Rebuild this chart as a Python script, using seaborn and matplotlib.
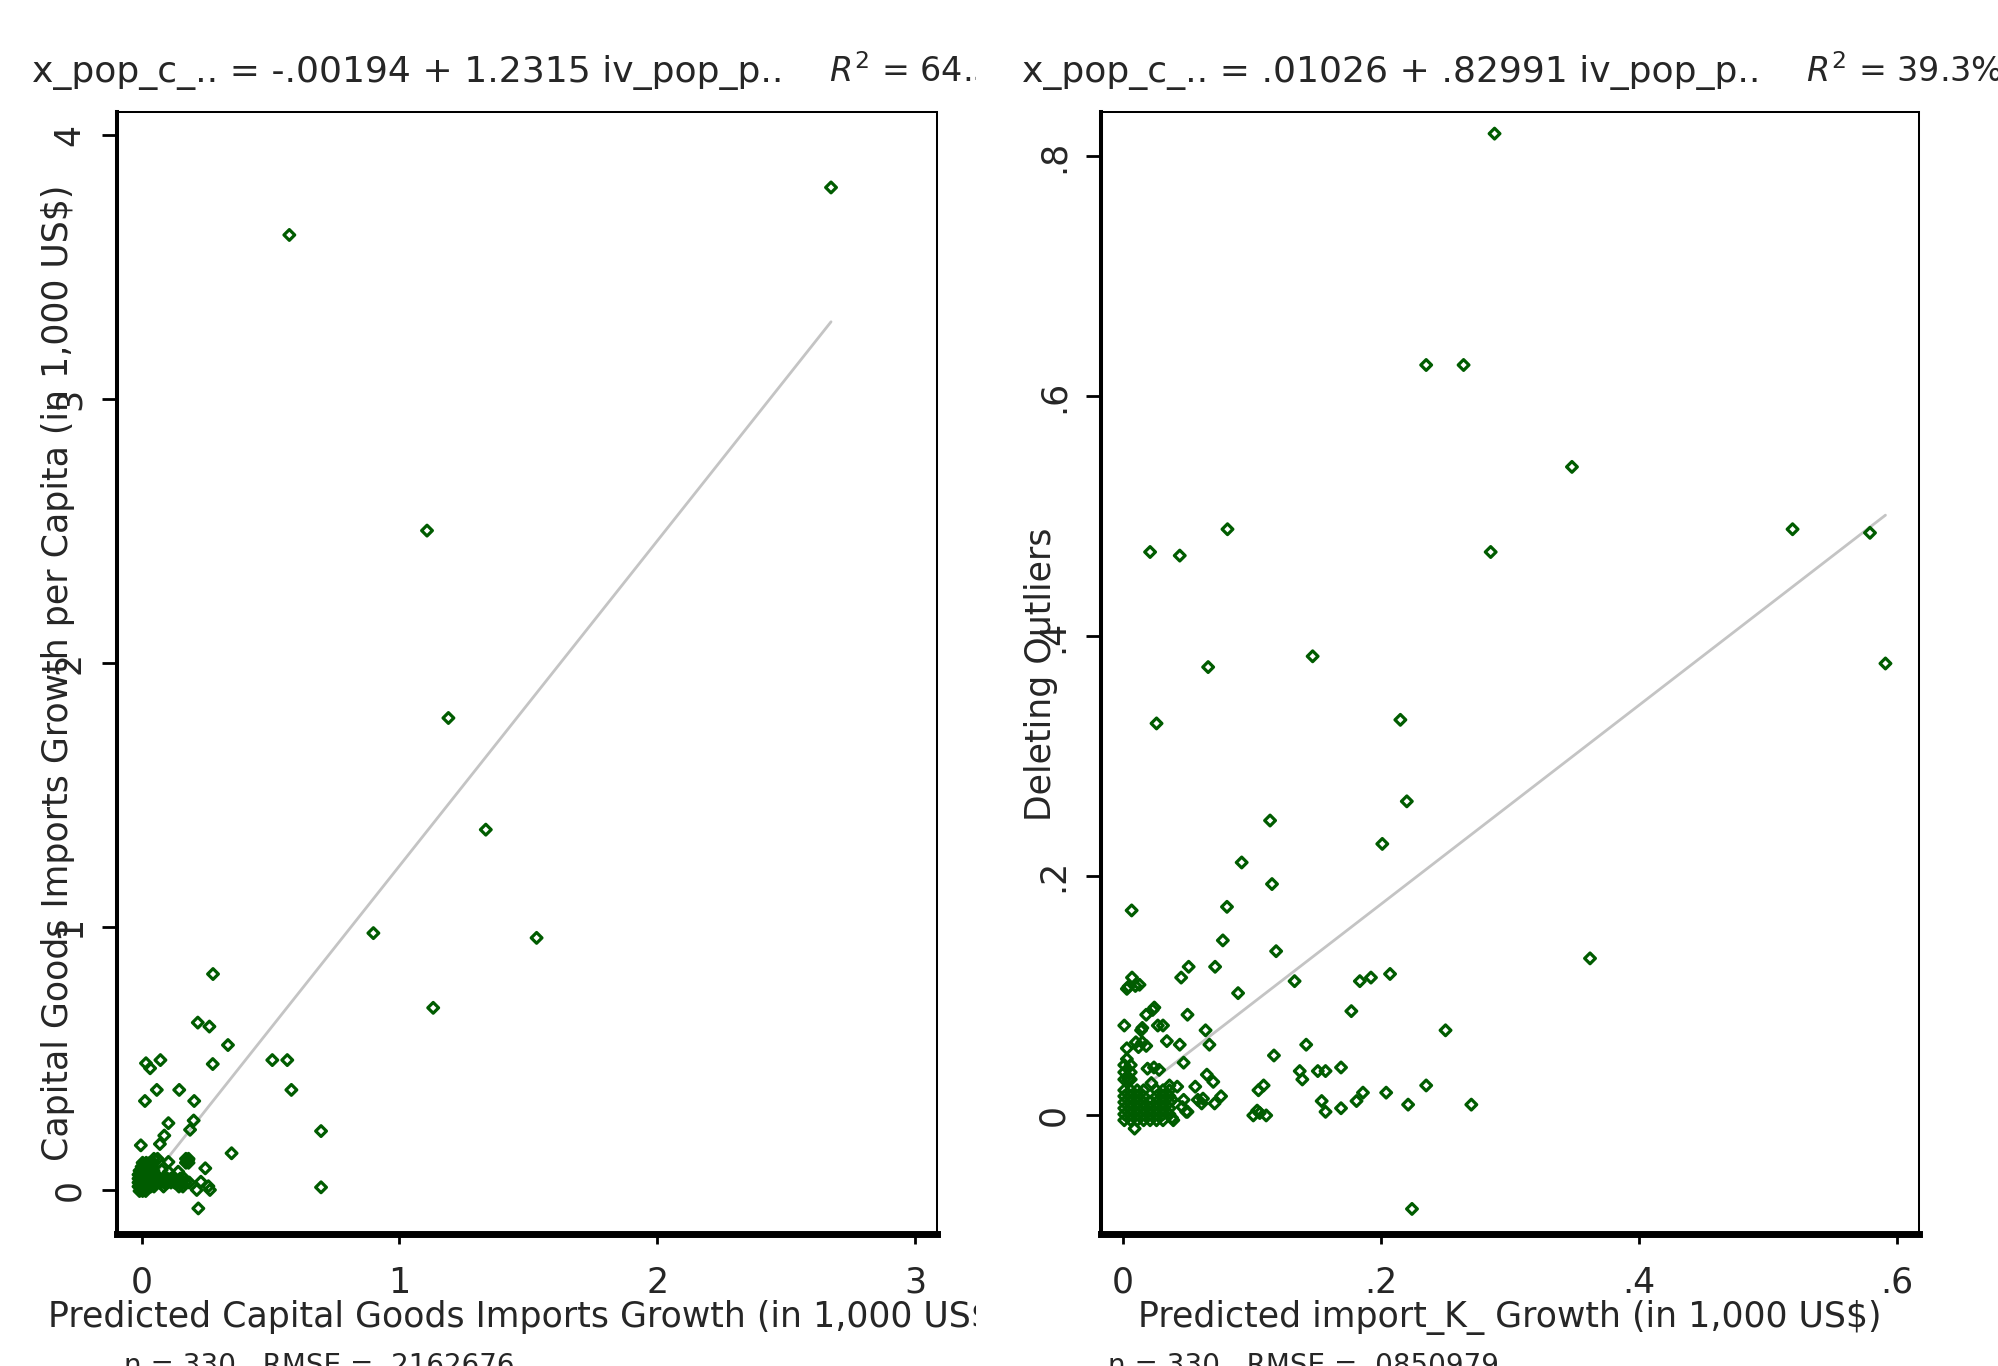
import numpy as np
import pandas as pd
import matplotlib
matplotlib.use("Agg")
import matplotlib.pyplot as plt
import seaborn as sns
from matplotlib.transforms import Bbox, TransformedBbox
from matplotlib.ticker import FixedLocator, FixedFormatter

# ---------------- data ----------------
left_points = [
    (2.674, 3.80), (0.573, 3.62), (1.107, 2.50), (1.19, 1.79), (1.335, 1.367),
    (0.899, 0.975), (1.532, 0.957), (1.131, 0.692), (0.277, 0.820), (0.218, 0.636),
    (0.263, 0.621), (0.335, 0.551), (0.017, 0.482), (0.033, 0.463), (0.073, 0.494),
    (0.276, 0.479), (0.507, 0.494), (0.565, 0.494), (0.059, 0.381), (0.146, 0.381),
    (0.581, 0.381), (0.013, 0.339), (0.204, 0.339), (0.104, 0.255), (0.202, 0.265),
    (0.188, 0.230), (0.696, 0.225), (0.088, 0.208), (-0.003, 0.171), (0.071, 0.176),
    (0.349, 0.141), (0.247, 0.084), (0.696, 0.012), (0.220, -0.068), (0.230, 0.033),
    (0.259, 0.016), (0.214, 0.002), (0.265, 0.002), (0.104, 0.108), (0.078, 0.078),
    (0.142, 0.071), (0.181, 0.116),
]
left_cluster = [
    (-0.008, -0.002), (0.004, -0.002), (0.016, -0.002),
    (-0.012, 0.015), (0.0, 0.015), (0.012, 0.015), (0.024, 0.015), (0.036, 0.015),
    (0.048, 0.015), (0.085, 0.015), (0.145, 0.015), (0.160, 0.015),
    (-0.012, 0.03), (0.002, 0.03), (0.016, 0.03), (0.03, 0.03), (0.044, 0.03),
    (0.058, 0.03), (0.072, 0.03), (0.086, 0.03), (0.10, 0.03), (0.114, 0.03),
    (0.128, 0.03), (0.142, 0.03), (0.156, 0.03), (0.170, 0.03), (0.185, 0.03),
    (-0.012, 0.045), (0.002, 0.045), (0.016, 0.045), (0.03, 0.045), (0.044, 0.045),
    (0.058, 0.045), (0.072, 0.045), (0.086, 0.045), (0.10, 0.045), (0.114, 0.045),
    (0.130, 0.045), (0.150, 0.045), (0.165, 0.045),
    (-0.012, 0.06), (0.002, 0.06), (0.016, 0.06), (0.03, 0.06), (0.044, 0.06),
    (0.105, 0.07),
    (-0.008, 0.075), (0.006, 0.075), (0.02, 0.075), (0.034, 0.075), (0.046, 0.075),
    (0.0, 0.09), (0.014, 0.09), (0.028, 0.09), (0.042, 0.09),
    (0.004, 0.105), (0.018, 0.105), (0.032, 0.105), (0.046, 0.105),
    (0.172, 0.105), (0.182, 0.105),
    (0.048, 0.12), (0.062, 0.12), (0.172, 0.12), (0.182, 0.12),
]
right_points = [
    (0.288, 0.819), (0.235, 0.626), (0.264, 0.626), (0.348, 0.541), (0.081, 0.489),
    (0.519, 0.489), (0.579, 0.486), (0.021, 0.470), (0.044, 0.467), (0.285, 0.470),
    (0.066, 0.374), (0.147, 0.383), (0.591, 0.377), (0.026, 0.327), (0.215, 0.330),
    (0.114, 0.246), (0.220, 0.262), (0.092, 0.211), (0.1155, 0.193), (0.201, 0.2265),
    (0.0067, 0.171), (0.0806, 0.174), (0.0774, 0.146), (0.1187, 0.137), (0.362, 0.131),
    (0.133, 0.112), (0.007, 0.115), (0.0128, 0.109), (0.0043, 0.1075), (0.0096, 0.108),
    (0.003, 0.1056), (0.0451, 0.115), (0.0509, 0.124), (0.0714, 0.124), (0.0892, 0.102),
    (0.1836, 0.112), (0.1922, 0.115), (0.207, 0.118), (0.0243, 0.090), (0.177, 0.087),
    (0.250, 0.071), (0.142, 0.059), (0.117, 0.050), (0.137, 0.037), (0.139, 0.030),
    (0.151, 0.037), (0.157, 0.037), (0.169, 0.040), (0.235, 0.025), (0.204, 0.019),
    (0.186, 0.019), (0.181, 0.012), (0.221, 0.009), (0.270, 0.009), (0.154, 0.012),
    (0.157, 0.003), (0.169, 0.006), (0.224, -0.078), (0.109, 0.025), (0.105, 0.021),
    (0.076, 0.016), (0.071, 0.010), (0.050, 0.084), (0.064, 0.071), (0.067, 0.059),
    (0.047, 0.044), (0.065, 0.034), (0.070, 0.028), (0.056, 0.024), (0.050, 0.003),
    (0.039, -0.004), (0.009, -0.011), (0.001, 0.075), (0.014, 0.071), (0.023, 0.088),
    (0.018, 0.084), (0.034, 0.062), (0.044, 0.059), (0.003, 0.056), (0.004, 0.030),
    (0.022, 0.027), (0.036, 0.025), (0.042, 0.024), (0.038, 0.013), (0.047, 0.013),
    (0.049, 0.003), (0.038, -0.002), (0.015, 0.073), (0.046, 0.007),
]
right_cluster = [
    (0.001, -0.004), (0.006, -0.004), (0.011, -0.004), (0.016, -0.004), (0.021, -0.004),
    (0.026, -0.004), (0.031, -0.004),
    (0.001, 0.001), (0.006, 0.001), (0.011, 0.001), (0.016, 0.001), (0.021, 0.001),
    (0.026, 0.001), (0.031, 0.001), (0.036, 0.001),
    (0.001, 0.006), (0.006, 0.006), (0.011, 0.006), (0.016, 0.006), (0.021, 0.006),
    (0.026, 0.006), (0.031, 0.006), (0.036, 0.006),
    (0.001, 0.011), (0.006, 0.011), (0.011, 0.011), (0.016, 0.011), (0.021, 0.011),
    (0.026, 0.011), (0.031, 0.011), (0.036, 0.011),
    (0.001, 0.016), (0.006, 0.016), (0.011, 0.016), (0.016, 0.016), (0.026, 0.016),
    (0.031, 0.016), (0.036, 0.016),
    (0.001, 0.021), (0.006, 0.021), (0.011, 0.021), (0.016, 0.021), (0.026, 0.021),
    (0.031, 0.021), (0.036, 0.021),
    (0.001, 0.030), (0.006, 0.030), (0.001, 0.036), (0.006, 0.036), (0.001, 0.042),
    (0.006, 0.042), (0.003, 0.047),
    (0.012, 0.057), (0.015, 0.061), (0.010, 0.061), (0.018, 0.058),
    (0.019, 0.039), (0.024, 0.040), (0.028, 0.038),
    (0.061, 0.010), (0.062, 0.014), (0.058, 0.013),
    (0.101, 0.000), (0.106, 0.002), (0.111, 0.000), (0.104, 0.004),
    (0.027, 0.075), (0.031, 0.075),
]

left_coef = (-0.00194, 1.2315)
right_coef = (0.01026, 0.82991)

left_title = "x_pop_c_.. = -.00194 + 1.2315 iv_pop_p.."
right_title = "x_pop_c_.. = .01026 + .82991 iv_pop_p.."
left_r2 = r"$\mathit{R}^{2}$ = 64.3%"
right_r2 = r"$\mathit{R}^{2}$ = 39.3%"
left_xlabel = "Predicted Capital Goods Imports Growth (in 1,000 US$)"
right_xlabel = "Predicted import_K_ Growth (in 1,000 US$)"
left_ylabel = "Capital Goods Imports Growth per Capita (in 1,000 US$)"
right_ylabel = "Deleting Outliers"
left_note = "n = 330   RMSE = .2162676"
right_note = "n = 330   RMSE = .0850979"

left_xticks = [0, 1, 2, 3]
left_xticklabels = ["0", "1", "2", "3"]
left_yticks = [0, 1, 2, 3, 4]
left_yticklabels = ["0", "1", "2", "3", "4"]
right_xticks = [0, 0.2, 0.4, 0.6]
right_xticklabels = ["0", ".2", ".4", ".6"]
right_yticks = [0, 0.2, 0.4, 0.6, 0.8]
right_yticklabels = ["0", ".2", ".4", ".6", ".8"]

left_xlim = (-0.0954, 3.085)
left_ylim = (-0.163, 4.087)
right_xlim = (-0.01705, 0.617)
right_ylim = (-0.0985, 0.8373)

# ---------------- style ----------------
sns.set_style("white")
plt.rcParams['font.family'] = ['DejaVu Sans']
plt.rcParams['mathtext.fontset'] = 'dejavusans'

GREEN = "#005c00"
LINE = "#c4c4c4"
W, H = 1999, 1366
fig = plt.figure(figsize=(W / 100, H / 100), dpi=100)
fig.patch.set_facecolor("white")

ax_bottom = (H - 1233.5) / H
ax_height = (1233.5 - 111.7) / H
axL = fig.add_axes([117 / W, ax_bottom, 820 / W, ax_height])
axR = fig.add_axes([1101 / W, ax_bottom, 818 / W, ax_height])

clipL = TransformedBbox(Bbox([[0, 0], [976 / W, 1]]), fig.transFigure)


def draw_panel(ax, pts, cluster, coef, xlim, ylim, xt, xtl, yt, ytl):
    df = pd.DataFrame(list(pts) + list(cluster), columns=["x", "y"])
    xs = np.array([df["x"].min(), df["x"].max()])
    line_df = pd.DataFrame({"x": xs, "y": coef[0] + coef[1] * xs})
    sns.lineplot(data=line_df, x="x", y="y", ax=ax, color=LINE, linewidth=2.0,
                 estimator=None, zorder=2)
    sns.scatterplot(data=df, x="x", y="y", ax=ax, marker="D", s=30,
                    facecolor="none", edgecolor=GREEN, linewidth=2.3, zorder=3)
    ax.set_xlim(*xlim)
    ax.set_ylim(*ylim)
    ax.xaxis.set_major_locator(FixedLocator(xt))
    ax.xaxis.set_major_formatter(FixedFormatter(xtl))
    ax.yaxis.set_major_locator(FixedLocator(yt))
    ax.yaxis.set_major_formatter(FixedFormatter(ytl))
    ax.set_xlabel("")
    ax.set_ylabel("")
    ax.tick_params(axis="x", direction="out", length=7.2, width=2, color="black",
                   labelsize=25, pad=16, bottom=True)
    ax.tick_params(axis="y", direction="out", length=10.8, width=2, color="black",
                   labelsize=25, pad=11, left=True, labelrotation=90)
    for lab in ax.get_yticklabels():
        lab.set_va("center")
    for side in ["top", "right", "left", "bottom"]:
        ax.spines[side].set_visible(True)
        ax.spines[side].set_color("black")
    ax.spines["left"].set_linewidth(2.9)
    ax.spines["bottom"].set_linewidth(5)
    ax.spines["top"].set_linewidth(1.45)
    ax.spines["right"].set_linewidth(1.45)
    ax.set_facecolor("white")
    ax.grid(False)
    leg = ax.get_legend()
    if leg is not None:
        leg.remove()


draw_panel(axL, left_points, left_cluster, left_coef, left_xlim, left_ylim,
           left_xticks, left_xticklabels, left_yticks, left_yticklabels)
draw_panel(axR, right_points, right_cluster, right_coef, right_xlim, right_ylim,
           right_xticks, right_xticklabels, right_yticks, right_yticklabels)


def ftext(xpx, ypx, s, clip=None, **kw):
    t = fig.text(xpx / W, 1 - ypx / H, s, **kw)
    if clip is not None:
        t.set_clip_box(clip)
        t.set_clip_on(True)
    return t


# titles
ftext(32, 81.7, left_title, clip=clipL, fontsize=26, va="baseline", ha="left")
ftext(829, 81.7, left_r2, clip=clipL, fontsize=24, va="baseline", ha="left")
ftext(1022, 81.7, right_title, fontsize=26, va="baseline", ha="left")
ftext(1806, 81.7, right_r2, fontsize=24, va="baseline", ha="left")

# x labels
ftext(527, 1326.7, left_xlabel, clip=clipL, fontsize=25, va="baseline", ha="center")
ftext(1510, 1326.7, right_xlabel, fontsize=25, va="baseline", ha="center")

# y labels
ftext(57.7, 673, left_ylabel, fontsize=25, rotation=90, va="center", ha="center")
ftext(1041, 674, right_ylabel, fontsize=25, rotation=90, va="center", ha="center")

# notes (cut by the bottom edge)
ftext(124, 1352, left_note, clip=clipL, fontsize=20, va="top", ha="left")
ftext(1108, 1352, right_note, fontsize=20, va="top", ha="left")

fig.savefig("out.png", dpi=100, facecolor="white")
